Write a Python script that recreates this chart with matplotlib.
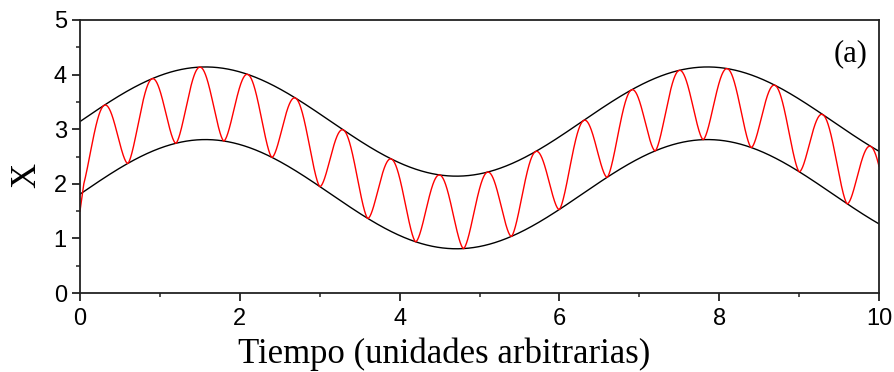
import numpy as np
import matplotlib
matplotlib.use("Agg")
import matplotlib.pyplot as plt
from matplotlib.ticker import MultipleLocator

plt.rcParams["font.family"] = ["Liberation Sans", "DejaVu Sans"]

# ---- values ----
x_ticks = [0, 2, 4, 6, 8, 10]
y_ticks = [0, 1, 2, 3, 4, 5]
upper_offset = 3.14      # upper envelope centre
lower_offset = 1.81      # lower envelope centre
env_amplitude = 1.0      # envelope swing
env_omega = 1.0          # envelope angular frequency (peaks at ~1.57, 7.85)
red_period = 0.6         # red curve peaks at 0.3, 0.9, 1.5 ...
red_shape = 1.6          # exponent giving broad peaks / narrow troughs
red_start_value = 1.5    # red curve value at t = 0
panel_label = "(a)"
xlabel = "Tiempo (unidades arbitrarias)"
ylabel = "X"

t = np.linspace(0, 10, 4000)
upper = upper_offset + env_amplitude * np.sin(env_omega * t)
lower = lower_offset + env_amplitude * np.sin(env_omega * t)
red = lower + (upper - lower) * np.abs(np.sin(np.pi * t / red_period)) ** red_shape
mask = t >= 0.045
t_red = np.concatenate([[0.0], t[mask]])
red = np.concatenate([[red_start_value], red[mask]])

fig = plt.figure(figsize=(8.94, 3.72), dpi=100)
ax = fig.add_axes([80 / 894, 1 - 293 / 372, 799 / 894, 273 / 372])

ax.plot(t, upper, color="black", lw=1.0)
ax.plot(t, lower, color="black", lw=1.0)
ax.plot(t_red, red, color="red", lw=1.0)

ax.set_xlim(0, 10)
ax.set_ylim(0, 5)
ax.set_xticks(x_ticks)
ax.set_yticks(y_ticks)
ax.xaxis.set_minor_locator(MultipleLocator(1))
ax.yaxis.set_minor_locator(MultipleLocator(0.5))
ax.tick_params(which="major", direction="out", length=5.5, width=1.3,
               top=False, right=False, color="#222222",
               labelsize=17, labelcolor="black")
ax.tick_params(axis="x", which="major", pad=5)
ax.tick_params(axis="y", which="major", pad=4)
ax.tick_params(which="minor", direction="out", length=3, width=1.1,
               top=False, right=False, color="#222222")
for s in ax.spines.values():
    s.set_linewidth(1.3)
    s.set_color("#222222")

ax.set_xlabel(xlabel, family="Liberation Serif", fontsize=25)
ax.xaxis.set_label_coords((444 - 80) / 799, (293 - 354) / 273)
ax.xaxis.label.set_va("center")
ax.set_ylabel(ylabel, family="Liberation Serif", fontsize=25)
ax.yaxis.set_label_coords((27 - 80) / 799, (293 - 175) / 273)
ax.yaxis.label.set_va("center")
ax.text(0.985, 0.878, panel_label, transform=ax.transAxes, ha="right", va="center",
        family="Liberation Serif", fontsize=22)

fig.savefig("out.png", dpi=100)
